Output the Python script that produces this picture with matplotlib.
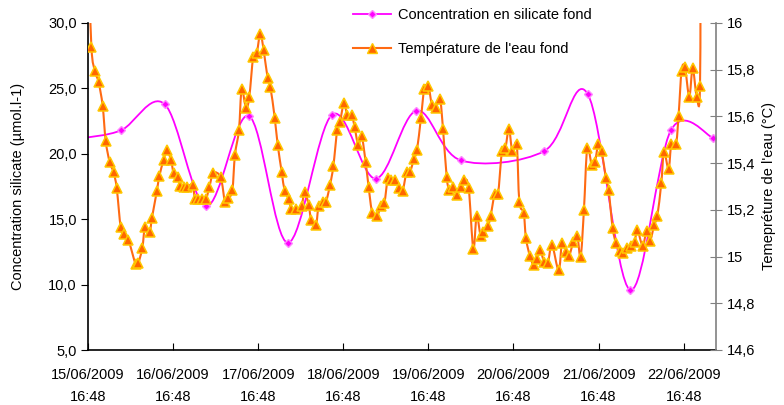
import datetime as dt
import matplotlib
matplotlib.use("Agg")
import matplotlib.pyplot as plt
import matplotlib.dates as mdates
from matplotlib.path import Path
from matplotlib.patches import PathPatch
from matplotlib.lines import Line2D
from matplotlib.ticker import FuncFormatter, MultipleLocator

plt.rcParams['font.family'] = ['Liberation Sans', 'DejaVu Sans']

start = dt.datetime(2009, 6, 15, 16, 48)

# silicate (days since start, µmol/l)
sil_day = [-0.06, 0.39, 0.90, 1.39, 1.89, 2.35, 2.87, 3.38, 3.86, 4.38,
           5.36, 5.87, 6.37, 6.85, 7.35]
sil_val = [21.2, 21.8, 23.8, 16.0, 22.9, 13.2, 23.0, 18.1, 23.3, 19.5,
           20.2, 24.6, 9.6, 21.8, 21.2]

# bottom water temperature (days since start, °C)
temp_day = [0.00, 0.04, 0.082, 0.125, 0.172, 0.208, 0.255, 0.30, 0.337, 0.384,
            0.419, 0.474, 0.56, 0.59, 0.638, 0.67, 0.725, 0.752, 0.81, 0.838,
            0.889, 0.925, 0.975, 1.007, 1.057, 1.085, 1.132, 1.167, 1.23, 1.257,
            1.296, 1.335, 1.386, 1.426, 1.473, 1.559, 1.61, 1.649, 1.696, 1.727,
            1.774, 1.806, 1.857, 1.895, 1.942, 1.982, 2.025, 2.064, 2.111, 2.143,
            2.194, 2.229, 2.276, 2.311, 2.358, 2.389, 2.444, 2.51, 2.545, 2.593,
            2.623, 2.679, 2.71, 2.765, 2.797, 2.844, 2.883, 2.929, 2.961, 3.008,
            3.047, 3.099, 3.133, 3.176, 3.216, 3.263, 3.298, 3.341, 3.40, 3.439,
            3.482, 3.525, 3.564, 3.611, 3.655, 3.697, 3.744, 3.784, 3.831, 3.866,
            3.913, 3.952, 4.00, 4.042, 4.085, 4.136, 4.172, 4.215, 4.246, 4.293,
            4.332, 4.379, 4.418, 4.473, 4.528, 4.567, 4.614, 4.645, 4.70, 4.732,
            4.779, 4.818, 4.865, 4.904, 4.947, 4.986, 5.038, 5.069, 5.12, 5.147,
            5.194, 5.237, 5.28, 5.311, 5.362, 5.405, 5.452, 5.531, 5.57, 5.617,
            5.652, 5.703, 5.75, 5.789, 5.828, 5.867, 5.919, 5.958, 5.997, 6.036,
            6.087, 6.118, 6.165, 6.204, 6.251, 6.29, 6.329, 6.377, 6.424, 6.455,
            6.518, 6.565, 6.604, 6.655, 6.69, 6.737, 6.769, 6.823, 6.855, 6.91,
            6.94, 6.976, 7.015, 7.066, 7.106, 7.153, 7.192, 7.20]
temp_val = [16.30, 15.896, 15.793, 15.746, 15.646, 15.495, 15.404, 15.361, 15.294, 15.125,
            15.095, 15.072, 14.967, 14.971, 15.036, 15.125, 15.107, 15.167, 15.282, 15.344,
            15.415, 15.455, 15.414, 15.357, 15.342, 15.304, 15.297, 15.297, 15.308, 15.247,
            15.247, 15.247, 15.247, 15.297, 15.358, 15.339, 15.235, 15.25, 15.284, 15.435,
            15.543, 15.716, 15.635, 15.683, 15.856, 15.87, 15.954, 15.884, 15.765, 15.726,
            15.595, 15.479, 15.363, 15.282, 15.247, 15.204, 15.204, 15.218, 15.278, 15.221,
            15.158, 15.135, 15.215, 15.235, 15.235, 15.306, 15.387, 15.543, 15.577, 15.656,
            15.606, 15.606, 15.555, 15.478, 15.515, 15.404, 15.297, 15.187, 15.175, 15.218,
            15.229, 15.338, 15.329, 15.329, 15.295, 15.282, 15.361, 15.363, 15.418, 15.456,
            15.595, 15.717, 15.729, 15.649, 15.635, 15.675, 15.546, 15.342, 15.285, 15.298,
            15.264, 15.297, 15.329, 15.295, 15.033, 15.175, 15.089, 15.104, 15.13, 15.175,
            15.267, 15.267, 15.452, 15.464, 15.546, 15.453, 15.481, 15.235, 15.187, 15.078,
            15.001, 14.965, 14.99, 15.03, 14.976, 14.973, 15.05, 14.941, 15.058, 15.018,
            15.001, 15.061, 15.089, 14.998, 15.20, 15.466, 15.392, 15.406, 15.481, 15.452,
            15.335, 15.285, 15.124, 15.058, 15.025, 15.015, 15.036, 15.047, 15.064, 15.115,
            15.047, 15.11, 15.067, 15.137, 15.173, 15.314, 15.447, 15.375, 15.481, 15.481,
            15.603, 15.796, 15.81, 15.685, 15.806, 15.685, 15.729, 16.60]

x_ticks = [start + dt.timedelta(days=i) for i in range(8)]


def to_num(days):
    return [mdates.date2num(start + dt.timedelta(days=d)) for d in days]


def smooth_path(x, y):
    # excel-like smoothed line (catmull-rom as cubic bezier)
    n = len(x)
    verts = [(x[0], y[0])]
    codes = [Path.MOVETO]
    for i in range(n - 1):
        a = max(i - 1, 0)
        b = min(i + 2, n - 1)
        c1 = (x[i] + (x[i + 1] - x[a]) / 6, y[i] + (y[i + 1] - y[a]) / 6)
        c2 = (x[i + 1] - (x[b] - x[i]) / 6, y[i + 1] - (y[b] - y[i]) / 6)
        verts += [c1, c2, (x[i + 1], y[i + 1])]
        codes += [Path.CURVE4] * 3
    return Path(verts, codes)


fig = plt.figure(figsize=(7.84, 4.05), dpi=100)
ax = fig.add_axes([88 / 784, 1 - 350 / 405, 628 / 784, 327 / 405])
ax2 = ax.twinx()

pink = '#FF00FF'
orange = '#FF6A13'

sx = to_num(sil_day)
ax.add_patch(PathPatch(smooth_path(sx, sil_val), fill=False, ec=pink, lw=1.3))
ax.plot(sx, sil_val, ls='none', marker='D', ms=4.5, mfc=pink, mec='#FF88FF', mew=1)

tx = to_num(temp_day)
ax2.add_patch(PathPatch(smooth_path(tx, temp_val), fill=False, ec=orange, lw=1.5))
ax2.plot(tx, temp_val, ls='none', marker='^', ms=7, mfc='#FF6600', mec='#FFC800', mew=1.1)

ax.set_xlim(to_num([0])[0], to_num([7.38])[0])
ax.set_ylim(5, 30)
ax2.set_ylim(14.6, 16)
ax.set_xticks(mdates.date2num(x_ticks))
ax.xaxis.set_major_formatter(mdates.DateFormatter('%d/%m/%Y\n%H:%M'))
ax.yaxis.set_major_locator(MultipleLocator(5))
ax.yaxis.set_major_formatter(FuncFormatter(lambda v, p: f'{v:.1f}'.replace('.', ',')))
ax2.yaxis.set_major_locator(MultipleLocator(0.2))
ax2.yaxis.set_major_formatter(FuncFormatter(lambda v, p: f'{v:.10g}'.replace('.', ',')))

for a in (ax, ax2):
    a.spines['top'].set_visible(False)
ax.spines['right'].set_visible(False)
ax2.spines['left'].set_visible(False)
ax2.spines['bottom'].set_visible(False)
ax2.spines['right'].set_color('#808080')
ax2.spines['right'].set_linewidth(1.2)
ax.spines['left'].set_linewidth(1.2)
ax.spines['bottom'].set_linewidth(1.2)

ax.tick_params(axis='x', direction='in', length=5, pad=13, labelsize=10.5, colors='black')
ax.tick_params(axis='y', direction='out', length=5, pad=3, labelsize=10.5)
ax2.tick_params(axis='y', direction='inout', length=8, pad=4, labelsize=10.5, color='#808080')
for lbl in ax.get_xticklabels():
    lbl.set_linespacing(1.75)

ax.set_ylabel('Concentration silicate (µmol.l-1)', fontsize=10.5, labelpad=17)
ax2.set_ylabel("Temepréture de l'eau (°C)", fontsize=10.5, labelpad=5)

handles = [
    Line2D([], [], color=pink, lw=1.3, marker='D', ms=4.5, mfc=pink, mec='#FF88FF'),
    Line2D([], [], color=orange, lw=1.5, marker='^', ms=7, mfc='#FF6600', mec='#FFC800'),
]
fig.legend(handles, ['Concentration en silicate fond', "Température de l'eau fond"],
           loc='upper left', bbox_to_anchor=(340 / 784, 1 + 5 / 405), frameon=False,
           fontsize=10.5, handlelength=2.6, labelspacing=1.35, handletextpad=0.45)

fig.savefig('out.png', dpi=100)
